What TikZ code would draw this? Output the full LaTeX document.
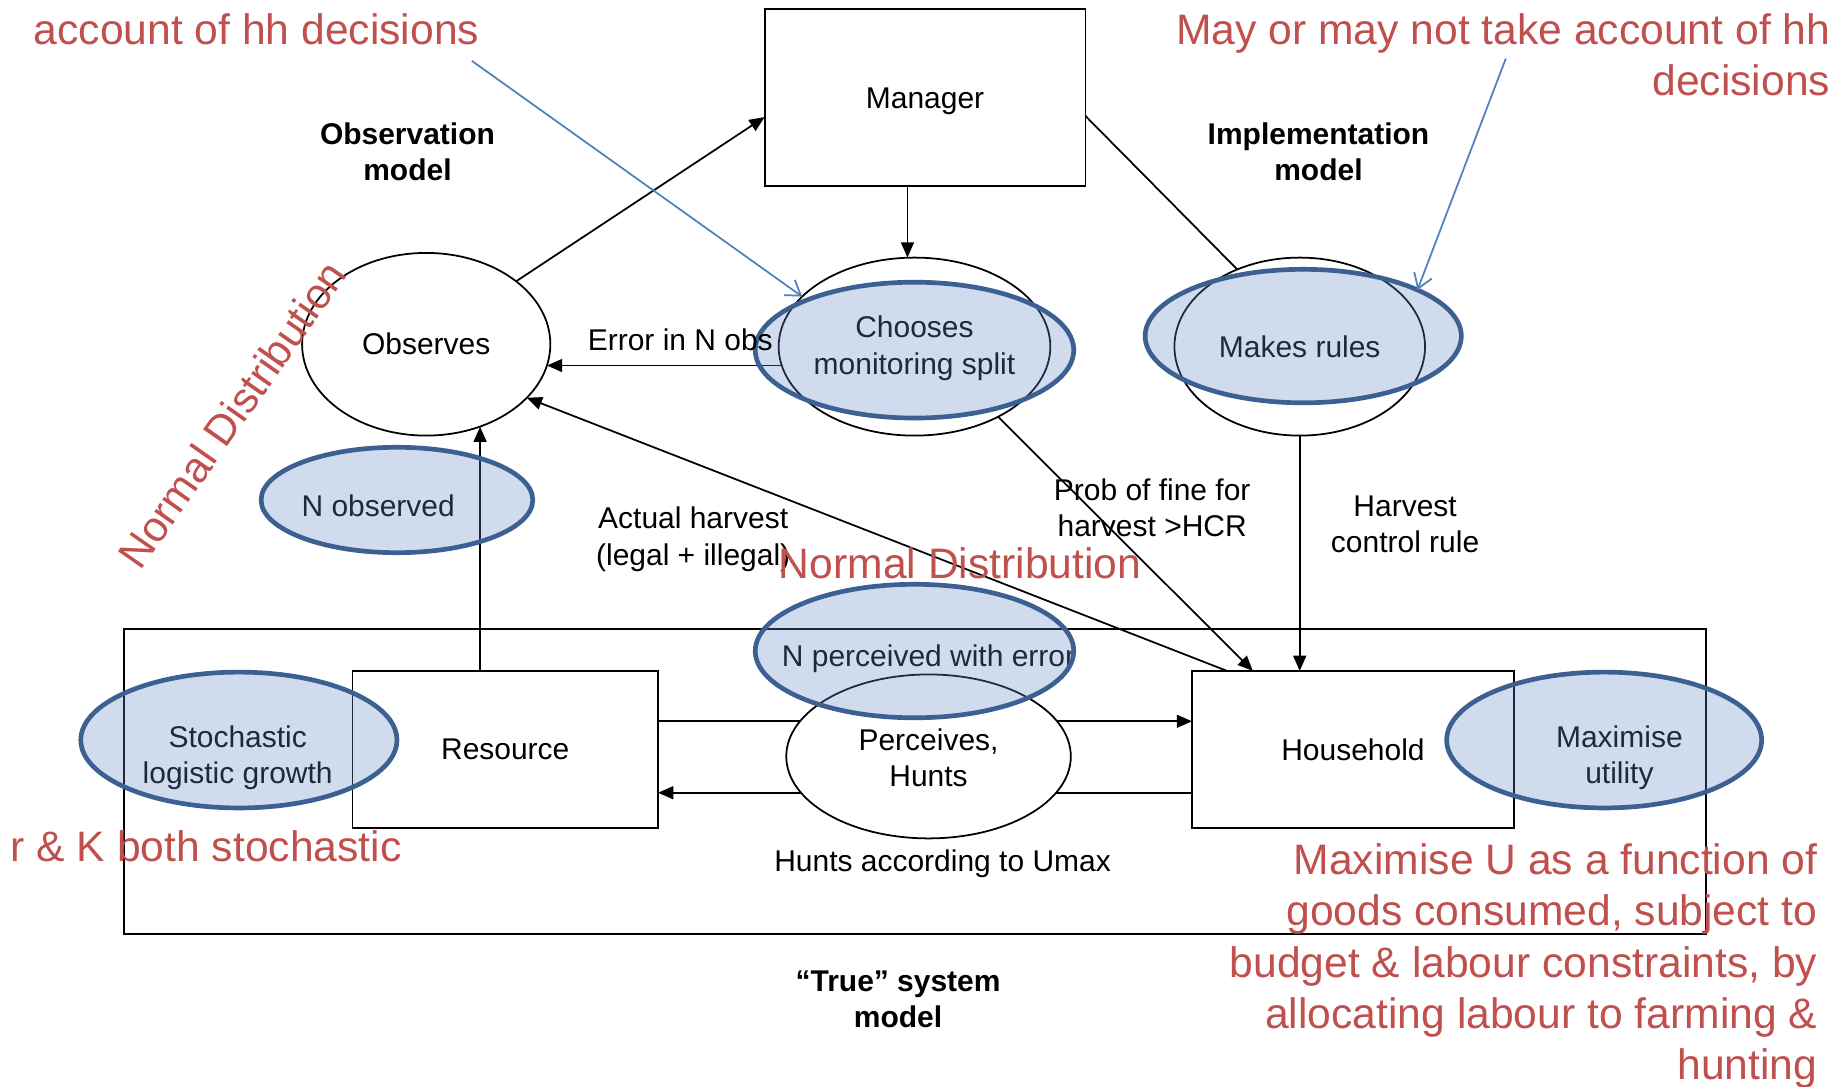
\documentclass[tikz,border=0pt]{standalone}
\usepackage{fontspec}
\setmainfont{Liberation Sans}
\usetikzlibrary{shapes.geometric,arrows.meta}
\definecolor{redtxt}{RGB}{192,80,77}
\definecolor{bluearr}{RGB}{79,129,189}
\definecolor{blueedge}{RGB}{60,96,145}
\definecolor{bluefill}{RGB}{100,140,200}
\pgfdeclarelayer{bg}
\pgfsetlayers{bg,main}
\begin{document}
\begin{tikzpicture}[x=0.5pt,y=-0.5pt,
  every node/.style={font=\fontsize{12.8}{15.5}\selectfont, inner sep=0pt, outer sep=0pt},
  box/.style={draw, line width=0.8pt, fill=white, rectangle},
  wellipse/.style={draw, line width=0.75pt, fill=white, ellipse, align=center},
  bellipse/.style={draw=blueedge, line width=2pt, fill=bluefill, fill opacity=0.3, ellipse},
  lbl/.style={align=center},
  boldlbl/.style={font=\fontsize{12.8}{15.5}\selectfont\bfseries, align=center},
  redt/.style={text=redtxt, font=\fontsize{18.2}{21.8}\selectfont},
  arr/.style={line width=0.75pt, -{Triangle[length=6.5pt,width=5.5pt]}},
  conn/.style={line width=0.75pt},
  barr/.style={draw=bluearr, line width=0.75pt, -{Straight Barb[length=6pt,width=8pt]}}
]
\useasboundingbox (0,0) rectangle (1568,927.5);

% system frame and boxes
\node[box, fill=none, minimum width=675.5pt, minimum height=130.5pt] (sys) at (781.5,667.5) {};
\node[box, minimum width=137pt, minimum height=75.5pt, text depth=0pt] (mgr) at (790,83.5) {Manager};
\node[box, minimum width=130.5pt, minimum height=67pt] (res) at (431.5,640) {Resource};
\node[box, minimum width=137.5pt, minimum height=67pt] (hh) at (1155.5,640) {Household};

% white ellipses
\node[wellipse, minimum width=106pt, minimum height=78pt] (obs) at (364,294) {Observes};
\node[wellipse, minimum width=116pt, minimum height=76pt] (chw) at (781,296) {};
\node[lbl] (tchw) at (781,297.5) {Chooses\\monitoring split};
\node[wellipse, minimum width=107pt, minimum height=76pt] (mkw) at (1110,296) {Makes rules};
\node[wellipse, minimum width=121.5pt, minimum height=70pt] (perc) at (793,646) {};
\node[lbl] (tperc) at (793,647) {Perceives,\\Hunts};

% texts under blue overlays
\node[lbl] (tnobs) at (323,432) {N observed};
\node[lbl] (tstoch) at (203,647) {Stochastic\\logistic growth};
\node[lbl] (tmax) at (1383,647) {Maximise\\utility};
\node[lbl] (tnperc) at (793,563) {N perceived with error};

% blue overlays
\node[bellipse, minimum width=136pt, minimum height=58pt] (chb) at (781,299) {};
\node[bellipse, minimum width=135pt, minimum height=57pt] (mkb) at (1113,287) {};
\node[bellipse, minimum width=116pt, minimum height=45pt] (nobs) at (339,427) {};
\node[bellipse, minimum width=135pt, minimum height=58pt] (stoch) at (204,632) {};
\node[bellipse, minimum width=134.5pt, minimum height=58pt] (maxu) at (1370,632) {};
\node[bellipse, minimum width=136pt, minimum height=57pt] (nperc) at (781,556) {};

% connectors
\begin{pgfonlayer}{bg}
\draw[arr] (obs.35) -- ([yshift=-8.25pt]mgr.west);
\draw[arr] ([xshift=-7.5pt]mgr.south) -- ([xshift=-3pt]chw.north);
\draw[conn] ([yshift=-7.75pt]mgr.east) -- (mkw.129);
\draw[arr] (chw.center |- obs.-10) -- (obs.-10);
\draw[arr] ([xshift=15pt]hh.north west) -- (obs.-28);
\draw[arr] (chw.-40) -- ([xshift=26pt]hh.north west);
\draw[arr] (mkw.south) -- (mkw.south |- hh.north);
\draw[arr] ([xshift=-10.75pt]res.north) -- ([xshift=-10.75pt]res.north |- obs.-57);
\draw[arr] ([yshift=12pt]res.east) -- ([yshift=12pt]hh.west);
\draw[arr] ([yshift=-18.5pt]hh.west) -- ([yshift=-18.5pt]res.east);
\end{pgfonlayer}

% labels
\node[lbl] (lerr) at (581,290) {Error in N obs};
\node[lbl] (lact) at (592,460.5) {Actual harvest\\(legal + illegal)};
\node[lbl] (lprob) at (984,433.5) {Prob of fine for\\harvest >HCR};
\node[lbl] (lhcr) at (1200,448) {Harvest\\control rule};
\node[lbl] (lhunt) at (805,738) {Hunts according to Umax};
\node[boldlbl] (ltrue) at (767,853.5) {“True” system\\model};
\node[boldlbl] (lobsm) at (348,129.5) {Observation\\model};
\node[boldlbl] (limpm) at (1126,129.5) {Implementation\\model};

% red annotations
\node[redt] (racc) at (219,25) {account of hh decisions};
\node[redt, align=right, anchor=east] (rmay) at (1563,47) {May or may not take account of hh\\decisions};
\node[redt] (rrk) at (176,723) {r \& K both stochastic};
\node[redt, align=right, anchor=east] (rmaxu) at (1552,825) {Maximise U as a function of\\goods consumed, subject to\\budget \& labour constraints, by\\allocating labour to farming \&\\hunting};
\node[redt] (rnd1) at (820,481) {Normal Distribution};
\node[redt, rotate=55] (rnd2) at (198,354) {Normal Distribution};

% blue annotation arrows
\coordinate (b1) at (403,52);
\coordinate (b2) at (1286,50);
\draw[barr] (b1) -- (chw.156);
\draw[barr] (b2) -- (mkb.22);
\end{tikzpicture}
\end{document}
